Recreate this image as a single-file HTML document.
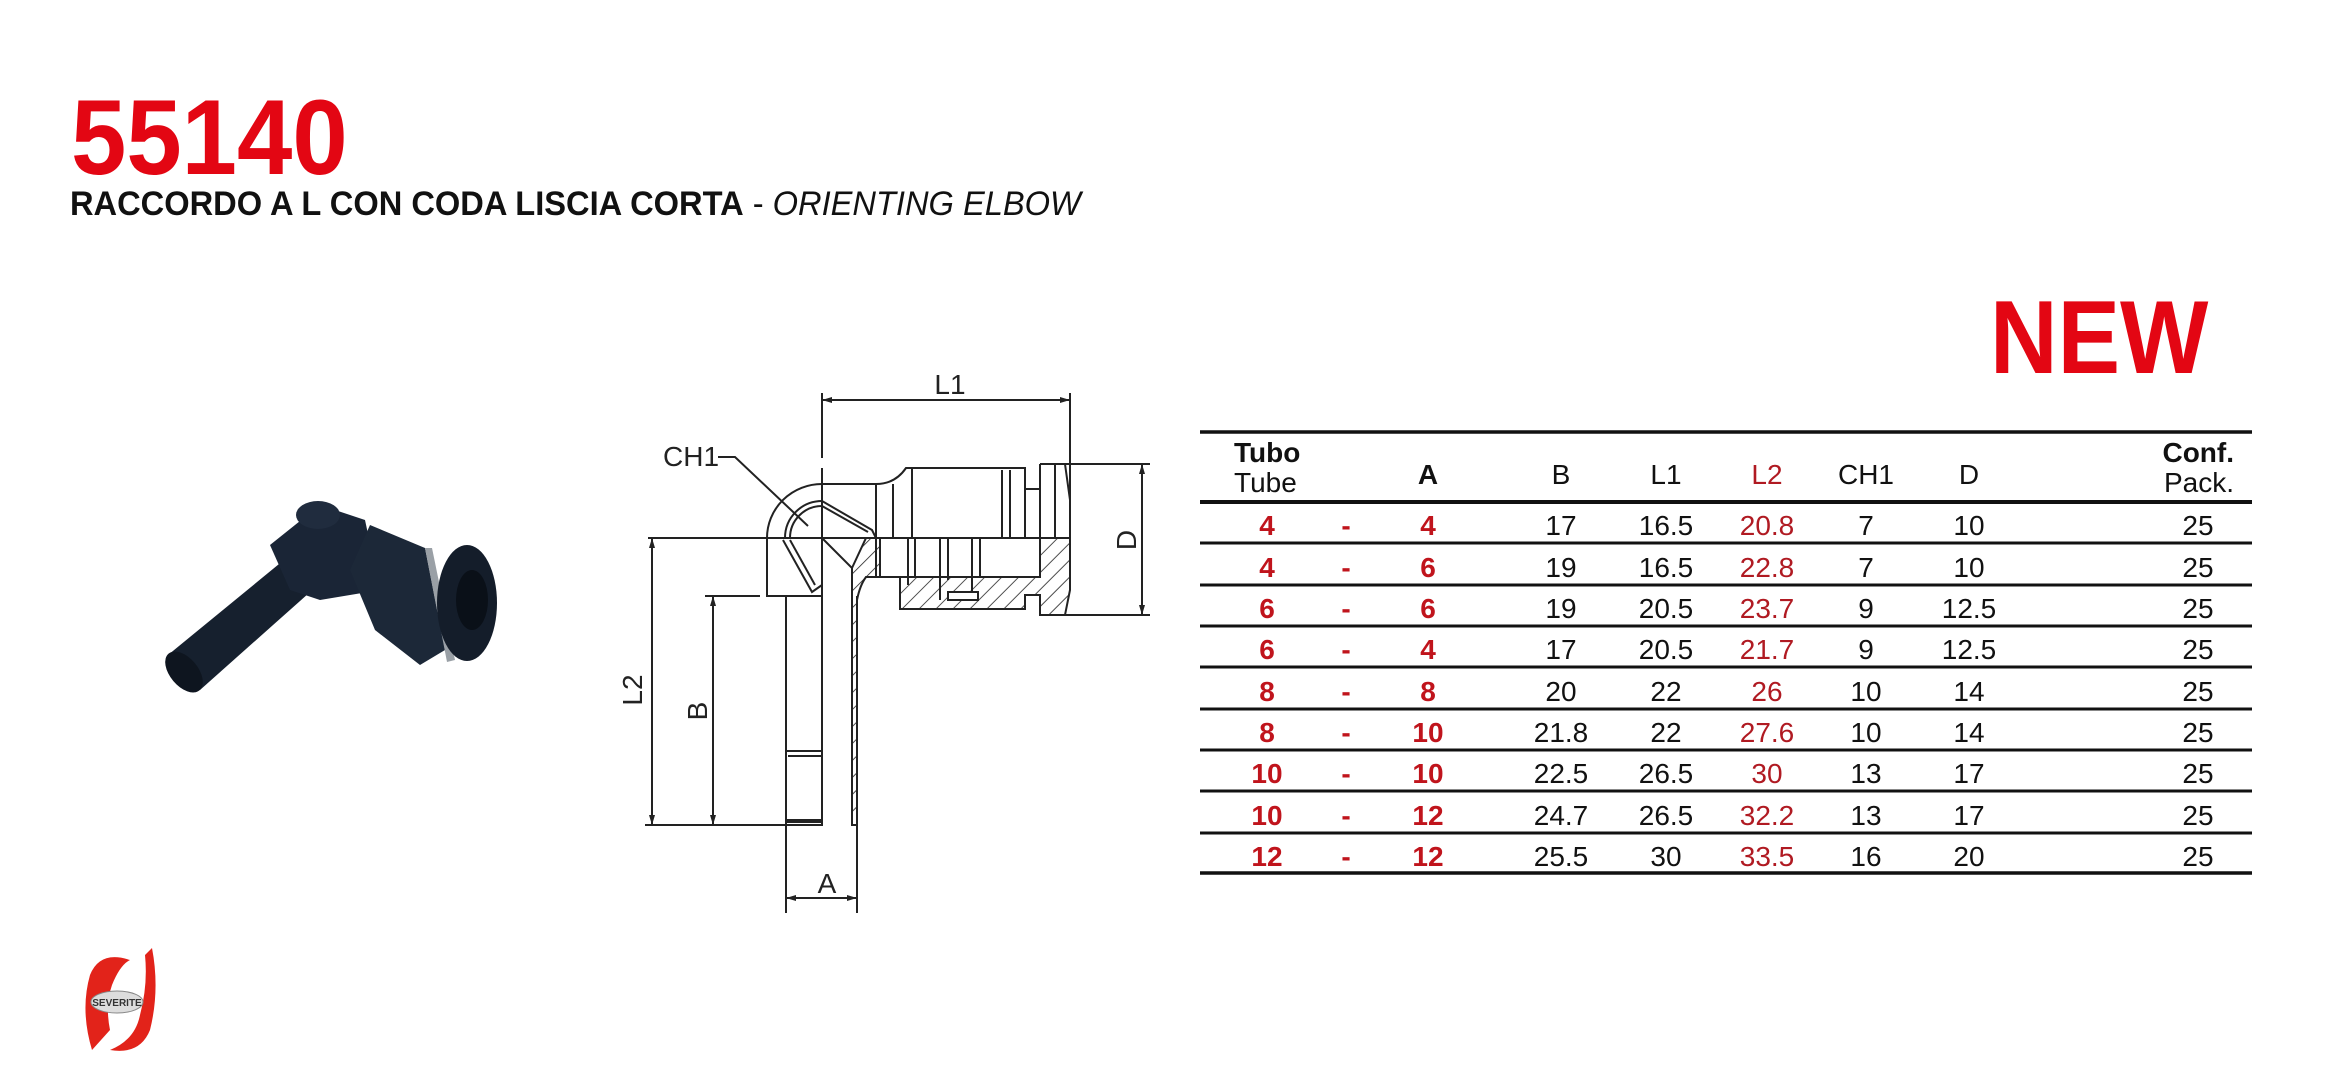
<!DOCTYPE html>
<html><head><meta charset="utf-8"><style>
html,body{margin:0;padding:0;background:#fff;}
svg{display:block;}
text{font-family:"Liberation Sans",sans-serif;}
</style></head><body>
<svg width="2335" height="1069" viewBox="0 0 2335 1069" xmlns="http://www.w3.org/2000/svg">
<defs>
<pattern id="h" patternUnits="userSpaceOnUse" width="12" height="12" patternTransform="rotate(45)">
<line x1="0" y1="0" x2="0" y2="12" stroke="#222" stroke-width="1.6"/>
</pattern>
<marker id="ar" viewBox="0 0 10 6" refX="10" refY="3" markerWidth="10" markerHeight="6" orient="auto-start-reverse" markerUnits="userSpaceOnUse">
<path d="M0,0 L10,3 L0,6 z" fill="#222"/>
</marker>
</defs>

<!-- Title -->
<text x="71" y="174" font-size="107" font-weight="bold" fill="#e30613" transform="translate(71 0) scale(0.93 1) translate(-71 0)">55140</text>
<text x="70" y="215" font-size="34" font-weight="bold" fill="#111" transform="translate(70 0) scale(0.96 1) translate(-70 0)">RACCORDO A L CON CODA LISCIA CORTA<tspan font-weight="normal"> - </tspan><tspan font-weight="normal" font-style="italic">ORIENTING ELBOW</tspan></text>

<!-- NEW -->
<text x="1990" y="373" font-size="104" font-weight="bold" fill="#e30613" transform="translate(1990 0) scale(0.9 1) translate(-1990 0)">NEW</text>

<!-- Photo -->
<g>
<path d="M168 655 L290 555 L318 585 L200 690 Z" fill="#16202e"/>
<ellipse cx="184" cy="672" rx="14" ry="24" transform="rotate(-40 184 672)" fill="#0e151f"/>
<path d="M270 545 L320 505 L365 520 L380 590 L320 600 L290 590 Z" fill="#1a2536"/>
<ellipse cx="318" cy="515" rx="22" ry="14" fill="#202c3e"/>
<path d="M370 525 L425 548 L445 650 L420 665 L375 630 L350 570 Z" fill="#1c2838"/>
<path d="M425 548 L432 548 L455 660 L447 662 Z" fill="#9aa0a6"/>
<ellipse cx="467" cy="603" rx="30" ry="58" fill="#141d2a"/>
<ellipse cx="472" cy="600" rx="16" ry="30" fill="#0a1018"/>
</g>

<!-- Logo -->
<g>
<path d="M90 975 Q100 950 130 960 Q120 965 112 985 Q105 1005 110 1030 L92 1050 Q80 1010 90 975 Z" fill="#e2231a"/>
<path d="M145 955 L152 948 Q160 990 150 1030 Q140 1055 110 1050 Q135 1040 140 1015 Q148 985 145 955 Z" fill="#e2231a"/>
<ellipse cx="117" cy="1002" rx="26" ry="11" fill="#ddd" stroke="#888"/>
<text x="117" y="1006" font-size="10" font-weight="bold" text-anchor="middle" fill="#333">SEVERITE</text>
</g>

<!-- Technical drawing -->
<g stroke="#222" stroke-width="2" fill="none">
<line x1="648" y1="538" x2="768" y2="538"/>
<line x1="778" y1="538" x2="1070" y2="538"/>
<line x1="822" y1="393" x2="822" y2="458"/>
<line x1="822" y1="468" x2="822" y2="825"/>
<line x1="1070" y1="393" x2="1070" y2="538"/>
<line x1="822" y1="400" x2="1070" y2="400" marker-start="url(#ar)" marker-end="url(#ar)"/>
<line x1="1040" y1="464" x2="1150" y2="464"/>
<line x1="1040" y1="615" x2="1150" y2="615"/>
<line x1="1142" y1="464" x2="1142" y2="615" marker-start="url(#ar)" marker-end="url(#ar)"/>
<line x1="645" y1="825" x2="786" y2="825"/>
<line x1="652" y1="538" x2="652" y2="825" marker-start="url(#ar)" marker-end="url(#ar)"/>
<line x1="705" y1="596" x2="760" y2="596"/>
<line x1="713" y1="596" x2="713" y2="825" marker-start="url(#ar)" marker-end="url(#ar)"/>
<line x1="786" y1="825" x2="786" y2="913"/>
<line x1="857" y1="825" x2="857" y2="913"/>
<line x1="786" y1="898" x2="857" y2="898" marker-start="url(#ar)" marker-end="url(#ar)"/>
<polyline points="718,457 735,457 808,526"/>

<path d="M767 538 A55 54 0 0 1 822 484 L876 484"/>
<path d="M785 538 A37 37 0 0 1 822 501"/>
<path d="M790 538 A32 32 0 0 1 822 506"/>
<polyline points="822,501 872,530 876,538"/>
<line x1="822" y1="506" x2="868" y2="532"/>
<rect x="767" y="538" width="55" height="58"/>
<polyline points="783,540 812,592 822,585"/>
<line x1="790" y1="540" x2="815" y2="585"/>

<rect x="786" y="596" width="36" height="229"/>
<line x1="786" y1="751" x2="822" y2="751"/>
<line x1="788" y1="756" x2="822" y2="756"/>
<line x1="786" y1="821" x2="822" y2="821" stroke-width="4"/>
<polyline points="822,538 852,568 852,825"/>
<line x1="857" y1="596" x2="857" y2="825"/>

<path d="M876 538 L876 484 Q895 484 906 468 L1025 468 L1025 538"/>
<line x1="893" y1="484" x2="893" y2="538"/>
<line x1="912" y1="468" x2="912" y2="538"/>
<line x1="1002" y1="470" x2="1002" y2="538"/>
<line x1="1010" y1="470" x2="1010" y2="538"/>
<path d="M1025 489 L1040 489 M1040 464 L1065 464 L1070 500 L1070 538 M1040 464 L1040 538"/>
<line x1="1055" y1="464" x2="1055" y2="538"/>
</g>
<path d="M852 568 L866 538 L880 538 L880 577 L900 577 L900 609 L1025 609 L1025 595 L1040 595 L1040 615 L1065 615 L1070 590 L1070 538 L1040 538 L1040 577 L1025 577 L900 577 L900 577 L866 577 Q860 585 857 600 L857 825 L852 825 Z" fill="url(#h)" stroke="#222" stroke-width="2"/>
<g stroke="#222" stroke-width="2" fill="none">
<path d="M876 538 L876 577 M908 538 L908 585 M915 538 L915 577 M940 538 L940 600 M948 538 L948 580 M972 538 L972 598 M980 538 L980 577"/>
<rect x="948" y="592" width="30" height="8" fill="#fff"/>
</g>

<g font-size="28" fill="#222">
<text x="950" y="394" text-anchor="middle">L1</text>
<text x="663" y="466">CH1</text>
<text x="827" y="893" text-anchor="middle">A</text>
<text transform="translate(642 690) rotate(-90)" text-anchor="middle">L2</text>
<text transform="translate(707 711) rotate(-90)" text-anchor="middle">B</text>
<text transform="translate(1136 540) rotate(-90)" text-anchor="middle">D</text>
</g>

<!-- Table -->
<g stroke="#111">
<line x1="1200" y1="432" x2="2252" y2="432" stroke-width="3.5"/>
<line x1="1200" y1="502" x2="2252" y2="502" stroke-width="4"/>
<line x1="1200" y1="543" x2="2252" y2="543" stroke-width="3"/>
<line x1="1200" y1="585" x2="2252" y2="585" stroke-width="3"/>
<line x1="1200" y1="626" x2="2252" y2="626" stroke-width="3"/>
<line x1="1200" y1="667" x2="2252" y2="667" stroke-width="3"/>
<line x1="1200" y1="709" x2="2252" y2="709" stroke-width="3"/>
<line x1="1200" y1="750" x2="2252" y2="750" stroke-width="3"/>
<line x1="1200" y1="791" x2="2252" y2="791" stroke-width="3"/>
<line x1="1200" y1="833" x2="2252" y2="833" stroke-width="3"/>
<line x1="1200" y1="873" x2="2252" y2="873" stroke-width="3.5"/>
</g>
<g font-size="28" fill="#111">
<text x="1234" y="462" font-weight="bold">Tubo</text>
<text x="1234" y="492">Tube</text>
<text x="2234" y="462" font-weight="bold" text-anchor="end">Conf.</text>
<text x="2234" y="492" text-anchor="end">Pack.</text>
<text x="1428" y="484" font-weight="bold" text-anchor="middle">A</text>
<text x="1561" y="484" text-anchor="middle">B</text>
<text x="1666" y="484" text-anchor="middle">L1</text>
<text x="1767" y="484" text-anchor="middle" fill="#b01a22">L2</text>
<text x="1866" y="484" text-anchor="middle">CH1</text>
<text x="1969" y="484" text-anchor="middle">D</text>
</g>
<g font-size="28" text-anchor="middle">
<g fill="#c0141c" font-weight="bold">
<text x="1267" y="535">4</text><text x="1267" y="577">4</text><text x="1267" y="618">6</text><text x="1267" y="659">6</text><text x="1267" y="701">8</text><text x="1267" y="742">8</text><text x="1267" y="783">10</text><text x="1267" y="825">10</text><text x="1267" y="866">12</text>
<text x="1346" y="535">-</text><text x="1346" y="577">-</text><text x="1346" y="618">-</text><text x="1346" y="659">-</text><text x="1346" y="701">-</text><text x="1346" y="742">-</text><text x="1346" y="783">-</text><text x="1346" y="825">-</text><text x="1346" y="866">-</text>
<text x="1428" y="535">4</text><text x="1428" y="577">6</text><text x="1428" y="618">6</text><text x="1428" y="659">4</text><text x="1428" y="701">8</text><text x="1428" y="742">10</text><text x="1428" y="783">10</text><text x="1428" y="825">12</text><text x="1428" y="866">12</text>
</g>
<g fill="#111">
<text x="1561" y="535">17</text><text x="1561" y="577">19</text><text x="1561" y="618">19</text><text x="1561" y="659">17</text><text x="1561" y="701">20</text><text x="1561" y="742">21.8</text><text x="1561" y="783">22.5</text><text x="1561" y="825">24.7</text><text x="1561" y="866">25.5</text>
<text x="1666" y="535">16.5</text><text x="1666" y="577">16.5</text><text x="1666" y="618">20.5</text><text x="1666" y="659">20.5</text><text x="1666" y="701">22</text><text x="1666" y="742">22</text><text x="1666" y="783">26.5</text><text x="1666" y="825">26.5</text><text x="1666" y="866">30</text>
<text x="1866" y="535">7</text><text x="1866" y="577">7</text><text x="1866" y="618">9</text><text x="1866" y="659">9</text><text x="1866" y="701">10</text><text x="1866" y="742">10</text><text x="1866" y="783">13</text><text x="1866" y="825">13</text><text x="1866" y="866">16</text>
<text x="1969" y="535">10</text><text x="1969" y="577">10</text><text x="1969" y="618">12.5</text><text x="1969" y="659">12.5</text><text x="1969" y="701">14</text><text x="1969" y="742">14</text><text x="1969" y="783">17</text><text x="1969" y="825">17</text><text x="1969" y="866">20</text>
<text x="2198" y="535">25</text><text x="2198" y="577">25</text><text x="2198" y="618">25</text><text x="2198" y="659">25</text><text x="2198" y="701">25</text><text x="2198" y="742">25</text><text x="2198" y="783">25</text><text x="2198" y="825">25</text><text x="2198" y="866">25</text>
</g>
<g fill="#b01a22">
<text x="1767" y="535">20.8</text><text x="1767" y="577">22.8</text><text x="1767" y="618">23.7</text><text x="1767" y="659">21.7</text><text x="1767" y="701">26</text><text x="1767" y="742">27.6</text><text x="1767" y="783">30</text><text x="1767" y="825">32.2</text><text x="1767" y="866">33.5</text>
</g>
</g>
</svg>
</body></html>
